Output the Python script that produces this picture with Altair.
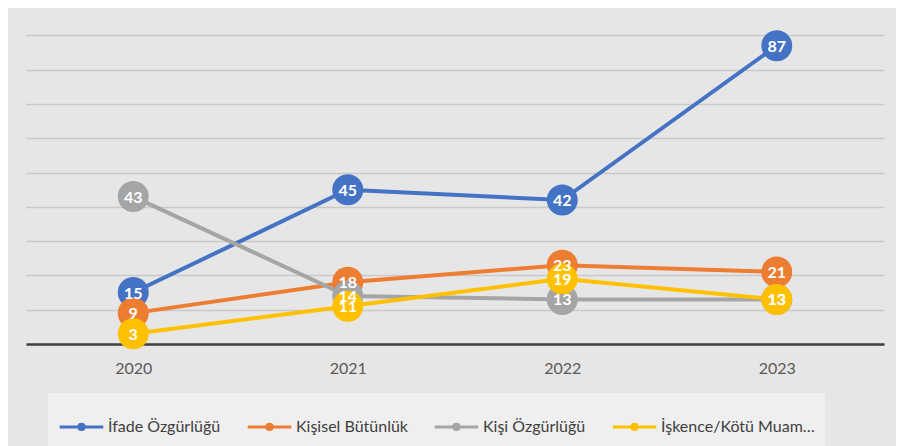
import altair as alt
import pandas as pd

years = ["2020", "2021", "2022", "2023"]
series_names = ["İfade Özgürlüğü", "Kişisel Bütünlük", "Kişi Özgürlüğü", "İşkence/Kötü Muamele"]
ifade = [15, 45, 42, 87]
kisisel = [9, 18, 23, 21]
kisi = [43, 14, 13, 13]
iskence = [3, 11, 19, 13]
colors = ["#4472C4", "#ED7D31", "#A5A5A5", "#FFC000"]

rows = []
for name, vals in zip(series_names, [ifade, kisisel, kisi, iskence]):
    for y, v in zip(years, vals):
        rows.append({"year": y, "series": name, "value": v, "k": series_names.index(name)})
df = pd.DataFrame(rows)

FONT = "Lato"
W, H = 858, 336

x_enc = alt.X("year:O", scale=alt.Scale(type="point", padding=0.5),
              axis=alt.Axis(title=None, labelAngle=0, ticks=False, domain=True,
                            domainColor="#404040", domainWidth=2.5,
                            labelFont=FONT, labelFontSize=16, labelColor="#595959",
                            labelPadding=16, grid=False))
y_enc = alt.Y("value:Q", scale=alt.Scale(domain=[0, 98], nice=False, zero=True),
              axis=alt.Axis(title=None, labels=False, ticks=False, domain=False,
                            values=list(range(0, 100, 10)), grid=True,
                            gridColor="#c9c9c9", gridWidth=1.5))

path = ("M-1,0L1,0 "
        "M0.12,0A0.12,0.12 0 1,1 -0.12,0A0.12,0.12 0 1,1 0.12,0Z")

color_scale = alt.Scale(domain=series_names, range=colors)
legend = alt.Legend(title=None, orient="none", direction="horizontal",
                    columns=4, legendX=22, legendY=385,
                    fillColor="#efefef", padding=10,
                    symbolType=path, symbolSize=1900, symbolStrokeWidth=3,
                    symbolOpacity=1,
                    labelFont=FONT, labelFontSize=16,
                    labelColor="#404040", labelOffset=3,
                    columnPadding=20)

color_enc = alt.Color("series:N", scale=color_scale, sort=series_names, legend=legend)

base = alt.Chart(df)

lines = base.mark_line(strokeWidth=4).encode(
    x=x_enc, y=y_enc, color=color_enc)

points = base.mark_circle(size=960, opacity=1).encode(
    x=x_enc, y=y_enc, color=color_enc, order=alt.Order("k:Q"))

labels = base.mark_text(font=FONT, fontSize=16, fontWeight="bold", color="white",
                        baseline="middle", dy=1).encode(
    x=x_enc, y=y_enc, text="value:Q", order=alt.Order("k:Q"))

chart = alt.layer(lines, points, labels).properties(
    width=W, height=H,
    padding={"left": 18, "top": 0, "right": 12, "bottom": 94},
    background="#e6e6e6"
).configure_view(stroke=None)

chart.save("out.html", embed_options={"renderer": "svg", "actions": False})
